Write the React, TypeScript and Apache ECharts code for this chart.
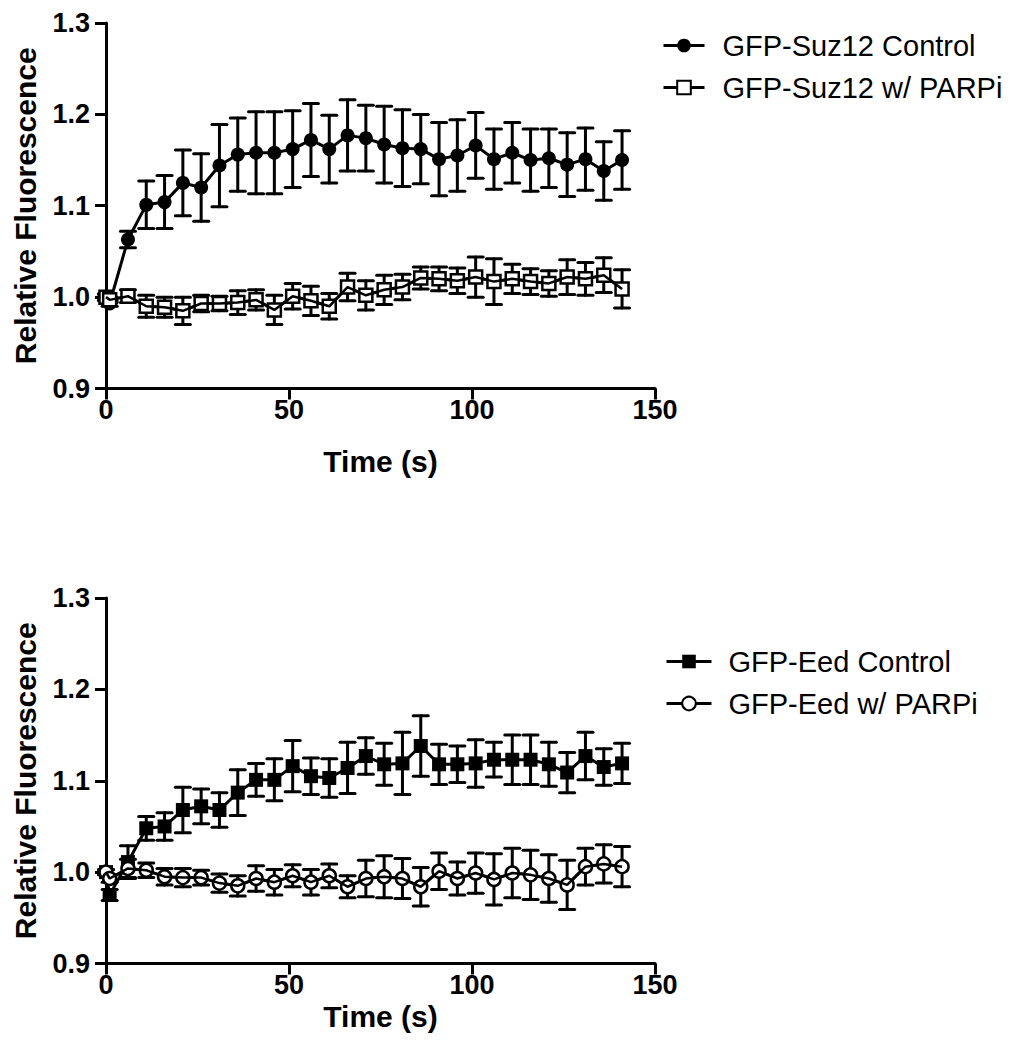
import React, { useEffect, useRef } from 'react';
import * as echarts from 'echarts';

const TIME = [0, 1, 6, 11, 16, 21, 26, 31, 36, 41, 46, 51, 56, 61, 66, 71, 76, 81, 86, 91, 96, 101, 106, 111, 116, 121, 126, 131, 136, 141];

const SUZ12_CONTROL = [1.000, 0.993, 1.063, 1.101, 1.104, 1.125, 1.120, 1.144, 1.156, 1.158, 1.158, 1.162, 1.172, 1.162, 1.177, 1.174, 1.167, 1.163, 1.162, 1.151, 1.155, 1.166, 1.151, 1.158, 1.150, 1.152, 1.145, 1.151, 1.138, 1.150];
const SUZ12_CONTROL_ERR = [0.004, 0.003, 0.009, 0.026, 0.029, 0.036, 0.037, 0.045, 0.040, 0.045, 0.045, 0.042, 0.040, 0.037, 0.039, 0.036, 0.042, 0.042, 0.038, 0.040, 0.039, 0.036, 0.033, 0.033, 0.034, 0.032, 0.035, 0.034, 0.032, 0.032];

const SUZ12_PARPI = [1.000, 0.997, 1.001, 0.990, 0.989, 0.985, 0.993, 0.993, 0.994, 0.997, 0.986, 1.001, 0.996, 0.990, 1.011, 1.002, 1.008, 1.011, 1.021, 1.020, 1.018, 1.022, 1.017, 1.020, 1.017, 1.015, 1.022, 1.020, 1.024, 1.009];
const SUZ12_PARPI_ERR = [0.003, 0.003, 0.007, 0.012, 0.011, 0.015, 0.009, 0.008, 0.013, 0.011, 0.016, 0.014, 0.016, 0.014, 0.015, 0.016, 0.016, 0.014, 0.012, 0.013, 0.014, 0.022, 0.025, 0.016, 0.014, 0.014, 0.019, 0.018, 0.019, 0.021];

const EED_CONTROL = [1.000, 0.975, 1.011, 1.048, 1.050, 1.068, 1.072, 1.068, 1.087, 1.101, 1.101, 1.116, 1.105, 1.103, 1.114, 1.127, 1.118, 1.119, 1.138, 1.118, 1.118, 1.119, 1.123, 1.123, 1.123, 1.118, 1.109, 1.127, 1.115, 1.119];
const EED_CONTROL_ERR = [0.003, 0.006, 0.018, 0.013, 0.015, 0.025, 0.019, 0.019, 0.025, 0.018, 0.023, 0.028, 0.020, 0.021, 0.028, 0.020, 0.023, 0.034, 0.033, 0.022, 0.020, 0.026, 0.019, 0.027, 0.027, 0.024, 0.022, 0.026, 0.020, 0.022];

const EED_PARPI = [1.000, 0.993, 1.004, 1.002, 0.995, 0.994, 0.994, 0.988, 0.985, 0.993, 0.989, 0.996, 0.989, 0.996, 0.984, 0.993, 0.995, 0.993, 0.984, 1.001, 0.993, 0.999, 0.992, 0.999, 0.997, 0.993, 0.986, 1.006, 1.009, 1.006];
const EED_PARPI_ERR = [0.003, 0.004, 0.010, 0.008, 0.009, 0.010, 0.008, 0.010, 0.011, 0.014, 0.014, 0.012, 0.014, 0.013, 0.012, 0.020, 0.023, 0.022, 0.021, 0.020, 0.018, 0.022, 0.028, 0.027, 0.027, 0.026, 0.027, 0.020, 0.021, 0.022];

const X_TICKS = [0, 50, 100, 150];
const Y_TICKS = [0.9, 1.0, 1.1, 1.2, 1.3];

const NAMES_TOP = ['GFP-Suz12 Control', 'GFP-Suz12 w/ PARPi'];
const NAMES_BOTTOM = ['GFP-Eed Control', 'GFP-Eed w/ PARPi'];

const FONT = '"Liberation Sans", Arial, Helvetica, sans-serif';

function errorBars(values: number[], errs: number[], axis: number) {
  return {
    type: 'custom',
    xAxisIndex: axis,
    yAxisIndex: axis,
    z: 1,
    silent: true,
    data: TIME.map((t, i) => [t, values[i], errs[i]]),
    encode: { x: 0, y: 1 },
    renderItem: (_params: any, api: any) => {
      const x = api.value(0);
      const y = api.value(1);
      const e = api.value(2);
      const hi = api.coord([x, y + e]);
      const lo = api.coord([x, y - e]);
      const c = 7.5;
      const st = { stroke: '#000', lineWidth: 3, lineCap: 'round' };
      return {
        type: 'group',
        children: [
          { type: 'line', shape: { x1: hi[0], y1: hi[1], x2: lo[0], y2: lo[1] }, style: st },
          { type: 'line', shape: { x1: hi[0] - c, y1: hi[1], x2: hi[0] + c, y2: hi[1] }, style: st },
          { type: 'line', shape: { x1: lo[0] - c, y1: lo[1], x2: lo[0] + c, y2: lo[1] }, style: st },
        ],
      };
    },
  };
}

function dataSeries(name: string, values: number[], axis: number, symbol: string, filled: boolean) {
  return {
    type: 'line',
    name,
    xAxisIndex: axis,
    yAxisIndex: axis,
    z: 2,
    data: TIME.map((t, i) => [t, values[i]]),
    symbol,
    symbolSize: filled ? 14 : 13,
    showSymbol: true,
    lineStyle: { color: '#000', width: 3 },
    itemStyle: filled
      ? { color: '#000', borderColor: '#000', borderWidth: 0 }
      : { color: '#fff', borderColor: '#000', borderWidth: 2.5 },
  };
}

function overlayLine(values: number[], axis: number) {
  return {
    type: 'line',
    name: '_overlay' + axis,
    xAxisIndex: axis,
    yAxisIndex: axis,
    z: 3,
    silent: true,
    data: TIME.map((t, i) => [t, values[i]]),
    showSymbol: false,
    symbol: 'none',
    lineStyle: { color: '#000', width: 2.5 },
  };
}

function xAxis(grid: number, gap: number) {
  return {
    type: 'value',
    gridIndex: grid,
    min: 0,
    max: 150,
    interval: 50,
    name: 'Time (s)',
    nameLocation: 'middle',
    nameGap: gap,
    nameTextStyle: { fontFamily: FONT, fontSize: 30, fontWeight: 'bold', color: '#000' },
    axisLine: { show: true, onZero: false, lineStyle: { color: '#000', width: 3 } },
    axisTick: { show: true, inside: false, length: 11, lineStyle: { color: '#000', width: 3 } },
    axisLabel: {
      margin: 8,
      fontFamily: FONT,
      fontSize: 27,
      fontWeight: 'bold',
      color: '#000',
      formatter: (v: number) => (X_TICKS.includes(v) ? String(v) : ''),
    },
    splitLine: { show: false },
  };
}

function yAxis(grid: number) {
  return {
    type: 'value',
    gridIndex: grid,
    min: 0.9,
    max: 1.3,
    interval: 0.1,
    name: 'Relative Fluorescence',
    nameLocation: 'middle',
    nameGap: 66,
    nameTextStyle: { fontFamily: FONT, fontSize: 30, fontWeight: 'bold', color: '#000' },
    axisLine: { show: true, onZero: false, lineStyle: { color: '#000', width: 3 } },
    axisTick: { show: true, inside: false, length: 11, lineStyle: { color: '#000', width: 3 } },
    axisLabel: {
      margin: 16,
      fontFamily: FONT,
      fontSize: 27,
      fontWeight: 'bold',
      color: '#000',
      formatter: (v: number) => {
        const r = Math.round(v * 10) / 10;
        return Y_TICKS.some((t) => Math.abs(t - r) < 1e-6) ? r.toFixed(1) : '';
      },
    },
    splitLine: { show: false },
  };
}

function legend(names: string[], left: number, top: number, width: number, pad: number) {
  return {
    data: names,
    orient: 'vertical',
    left,
    top,
    itemWidth: width,
    itemHeight: 17,
    itemGap: 13,
    selectedMode: false,
    lineStyle: { width: 3, color: '#000' },
    textStyle: {
      fontFamily: FONT,
      fontSize: 29,
      lineHeight: 29,
      color: '#000',
      padding: [0, 0, 0, pad],
    },
  };
}

export default function App() {
  const ref = useRef<HTMLDivElement>(null);

  useEffect(() => {
    if (!ref.current) return;
    const chart = echarts.init(ref.current, null, { renderer: 'svg' });
    const option: any = {
      animation: false,
      backgroundColor: '#fff',
      grid: [
        { left: 106, top: 23, width: 549, height: 365.5 },
        { left: 106, top: 598, width: 549, height: 365.5 },
      ],
      xAxis: [xAxis(0, 58), xAxis(1, 38)],
      yAxis: [yAxis(0), yAxis(1)],
      legend: [
        legend(NAMES_TOP, 657, 26, 41, 13),
        legend(NAMES_BOTTOM, 660, 642, 45, 12),
      ],
      series: [
        errorBars(SUZ12_CONTROL, SUZ12_CONTROL_ERR, 0),
        errorBars(SUZ12_PARPI, SUZ12_PARPI_ERR, 0),
        dataSeries(NAMES_TOP[0], SUZ12_CONTROL, 0, 'circle', true),
        dataSeries(NAMES_TOP[1], SUZ12_PARPI, 0, 'rect', false),
        overlayLine(SUZ12_PARPI, 0),
        errorBars(EED_CONTROL, EED_CONTROL_ERR, 1),
        errorBars(EED_PARPI, EED_PARPI_ERR, 1),
        dataSeries(NAMES_BOTTOM[0], EED_CONTROL, 1, 'rect', true),
        dataSeries(NAMES_BOTTOM[1], EED_PARPI, 1, 'circle', false),
        overlayLine(EED_PARPI, 1),
      ],
    };
    chart.setOption(option);
    return () => chart.dispose();
  }, []);

  return (
    <div
      ref={ref}
      style={{ position: 'absolute', left: 0, top: 0, width: 1020, height: 1050, background: '#fff' }}
    />
  );
}
